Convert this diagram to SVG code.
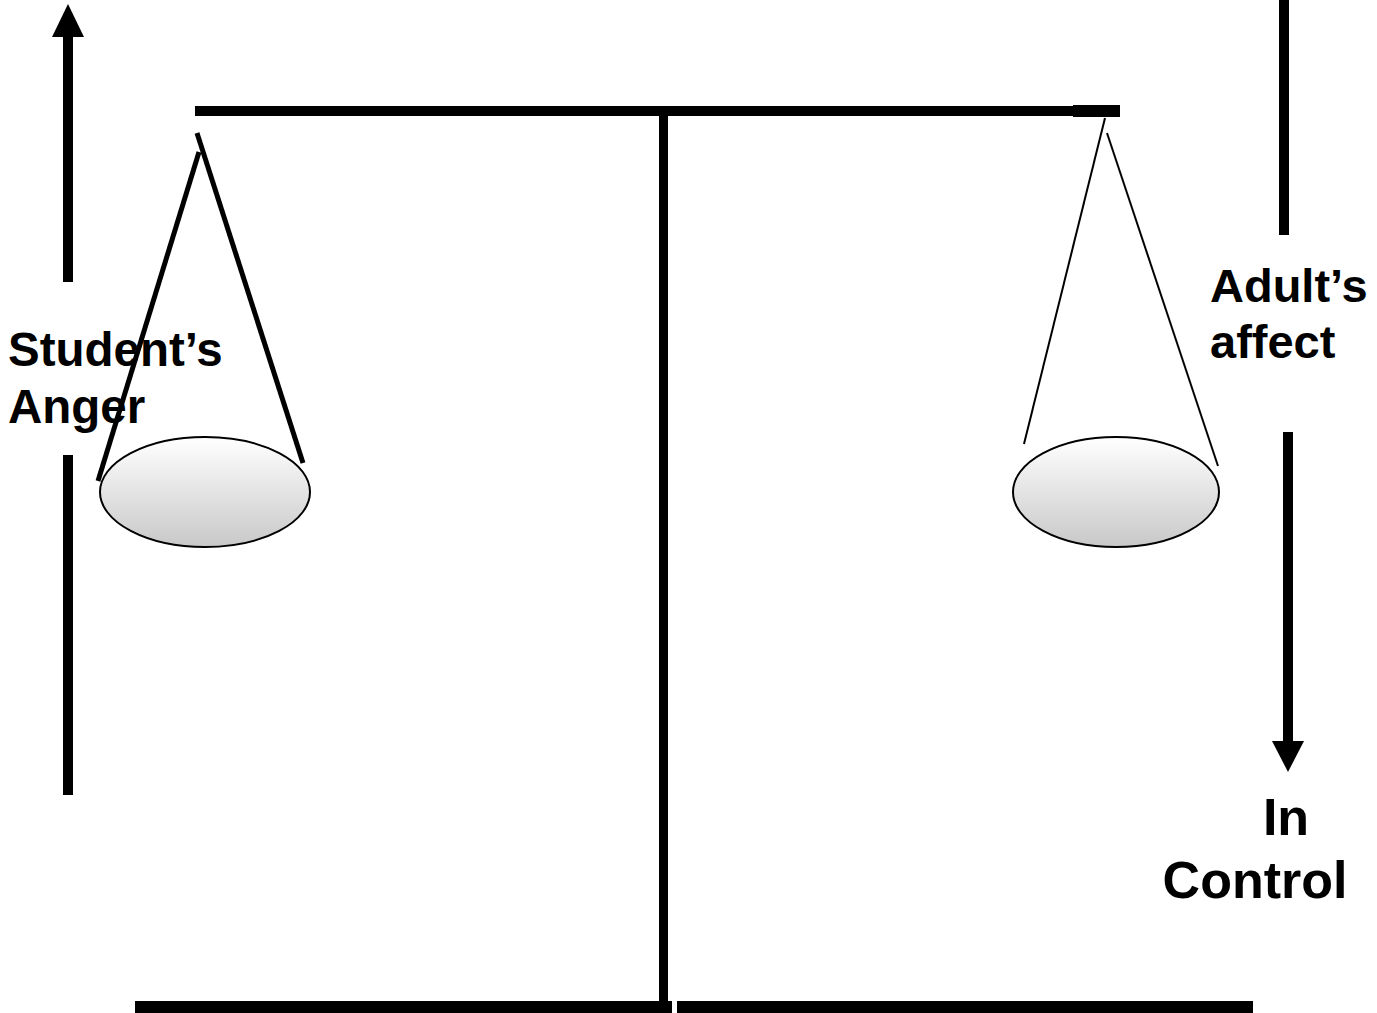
<svg xmlns="http://www.w3.org/2000/svg" width="1377" height="1013" viewBox="0 0 1377 1013">
<style>
.lbl{font-family:"Liberation Sans",Arial,sans-serif;font-weight:bold;fill:#000}
.thick{stroke:#000;stroke-width:5;fill:none}
.thin{stroke:#000;stroke-width:2;fill:none}
.pan{fill:url(#g);stroke:#000;stroke-width:2}
</style>
<defs>
<linearGradient id="g" x1="0" y1="0" x2="0" y2="1">
<stop offset="0" stop-color="#ffffff"/>
<stop offset="1" stop-color="#c8c8c8"/>
</linearGradient>
</defs>
<rect width="1377" height="1013" fill="#fff"/>
<g id="scale">
<rect x="195" y="106" width="880" height="10" fill="#000"/>
<rect x="1073" y="105" width="47" height="12" fill="#000"/>
<rect x="659" y="116" width="9" height="888" fill="#000"/>
<rect x="135" y="1001" width="537" height="12" fill="#000"/>
<rect x="677" y="1001" width="576" height="12" fill="#000"/>
</g>
<g id="left-pan">
<line class="thick" x1="197" y1="133" x2="303" y2="463"/>
<line class="thick" x1="199" y1="152" x2="98" y2="481"/>
<ellipse class="pan" cx="205" cy="492" rx="105" ry="55"/>
</g>
<g id="right-pan">
<line class="thin" x1="1105" y1="118" x2="1024" y2="444"/>
<line class="thin" x1="1107" y1="133" x2="1218" y2="466"/>
<ellipse class="pan" cx="1116" cy="492" rx="103" ry="55"/>
</g>
<g id="connectors">
<rect x="63" y="36" width="10" height="246" fill="#000"/>
<polygon points="68,4 52,37 84,37" fill="#000"/>
<rect x="63" y="455" width="10" height="340" fill="#000"/>
<rect x="1279" y="0" width="10" height="235" fill="#000"/>
<rect x="1283" y="432" width="10" height="311" fill="#000"/>
<polygon points="1272,741 1304,741 1288,772" fill="#000"/>
</g>
<g id="label-student">
<text class="lbl" font-size="47.5" x="8" y="366">Student’s</text>
<text class="lbl" font-size="47.5" x="8" y="423">Anger</text>
</g>
<g id="label-adult">
<text class="lbl" font-size="47" x="1210" y="302">Adult’s</text>
<text class="lbl" font-size="47" x="1210" y="358">affect</text>
</g>
<g id="label-control">
<text class="lbl" font-size="52" x="1286" y="835" text-anchor="middle">In</text>
<text class="lbl" font-size="52" x="1255" y="898" text-anchor="middle">Control</text>
</g>
</svg>
